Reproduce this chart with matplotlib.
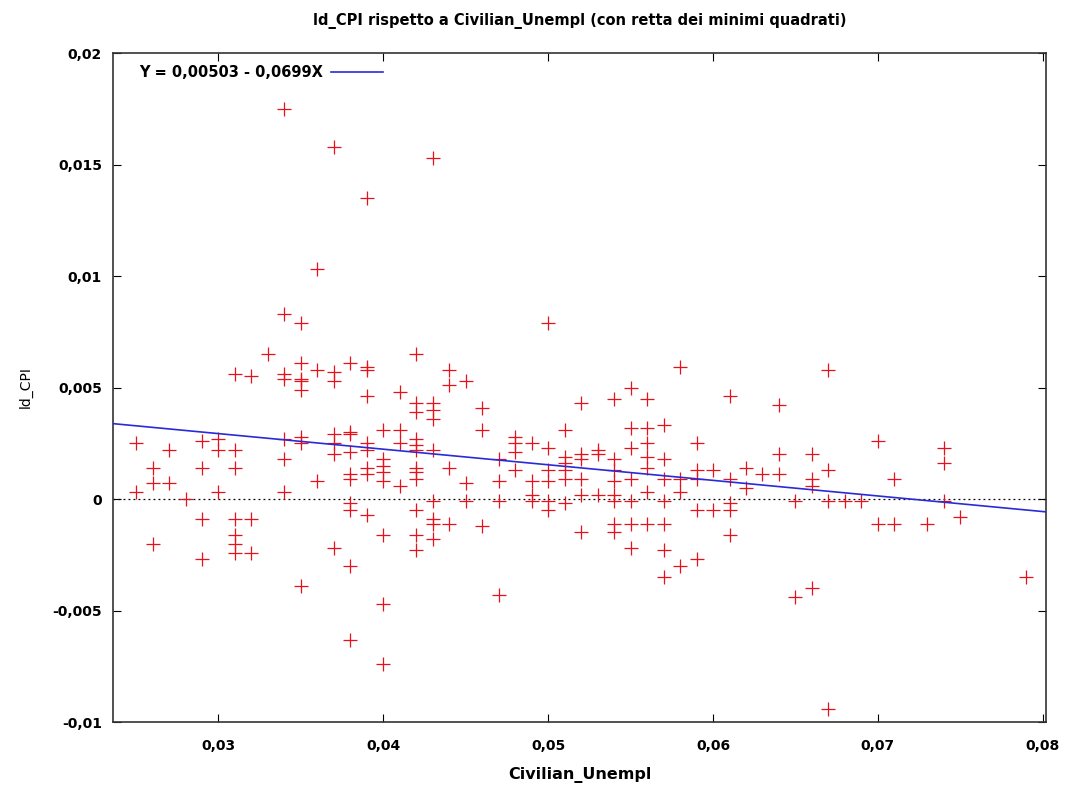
import matplotlib
matplotlib.use("Agg")
import matplotlib.pyplot as plt
from matplotlib.ticker import FuncFormatter
import numpy as np

# Civilian_Unempl (x) and ld_CPI (y)
unempl = {
    0.025: [0.0025, 0.0003],
    0.026: [0.0014, 0.0007, -0.0020],
    0.027: [0.0022, 0.0007],
    0.028: [0.0000],
    0.029: [0.0026, 0.0014, -0.0009, -0.0027],
    0.030: [0.0027, 0.0022, 0.0003],
    0.031: [0.0056, 0.0022, 0.0014, -0.0009, -0.0016, -0.0020, -0.0024],
    0.032: [0.0055, -0.0009, -0.0024],
    0.033: [0.0065],
    0.034: [0.0175, 0.0083, 0.0056, 0.0054, 0.0027, 0.0018, 0.0003],
    0.035: [0.0079, 0.0061, 0.0054, 0.0053, 0.0049, 0.0028, 0.0025, -0.0039],
    0.036: [0.0103, 0.0058, 0.0008],
    0.037: [0.0158, 0.0057, 0.0053, 0.0029, 0.0025, 0.0020, -0.0022],
    0.038: [0.0061, 0.0030, 0.0029, 0.0021, 0.0011, 0.0009, -0.0002, -0.0005, -0.0030, -0.0063],
    0.039: [0.0135, 0.0059, 0.0058, 0.0046, 0.0025, 0.0022, 0.0014, 0.0011, -0.0007],
    0.040: [0.0031, 0.0018, 0.0015, 0.0012, 0.0008, -0.0016, -0.0047, -0.0074],
    0.041: [0.0048, 0.0031, 0.0025, 0.0006],
    0.042: [0.0065, 0.0043, 0.0039, 0.0027, 0.0024, 0.0022, 0.0014, 0.0012, 0.0009, -0.0005, -0.0016, -0.0023],
    0.043: [0.0153, 0.0043, 0.0040, 0.0036, 0.0022, -0.0001, -0.0009, -0.0011, -0.0018],
    0.044: [0.0058, 0.0051, 0.0014, -0.0011],
    0.045: [0.0053, 0.0007, -0.0001],
    0.046: [0.0041, 0.0031, -0.0012],
    0.047: [0.0018, 0.0008, -0.0001, -0.0043],
    0.048: [0.0028, 0.0025, 0.0021, 0.0013],
    0.049: [0.0025, 0.0008, 0.0002, -0.0001],
    0.050: [0.0079, 0.0023, 0.0013, 0.0008, -0.0001, -0.0005],
    0.051: [0.0031, 0.0019, 0.0016, 0.0013, 0.0009, -0.0002],
    0.052: [0.0043, 0.0020, 0.0018, 0.0009, 0.0002, -0.0015],
    0.053: [0.0022, 0.0020, 0.0002],
    0.054: [0.0045, 0.0018, 0.0013, 0.0008, 0.0002, -0.0001, -0.0011, -0.0015],
    0.055: [0.0050, 0.0032, 0.0023, 0.0009, -0.0001, -0.0011, -0.0022],
    0.056: [0.0045, 0.0032, 0.0025, 0.0019, 0.0014, 0.0003, -0.0011],
    0.057: [0.0033, 0.0018, 0.0009, -0.0001, -0.0011, -0.0023, -0.0035],
    0.058: [0.0059, 0.0009, 0.0003, -0.0030],
    0.059: [0.0025, 0.0013, 0.0009, -0.0005, -0.0027],
    0.060: [0.0013, -0.0005],
    0.061: [0.0046, 0.0009, -0.0002, -0.0005, -0.0016],
    0.062: [0.0014, 0.0005],
    0.063: [0.0011],
    0.064: [0.0042, 0.0020, 0.0011],
    0.065: [-0.0001, -0.0044],
    0.066: [0.0020, 0.0009, 0.0006, -0.0040],
    0.067: [0.0058, 0.0013, -0.0001, -0.0094],
    0.068: [-0.0001],
    0.069: [-0.0001],
    0.070: [0.0026, -0.0011],
    0.071: [0.0009, -0.0011],
    0.073: [-0.0011],
    0.074: [0.0023, 0.0016, -0.0001],
    0.075: [-0.0008],
    0.079: [-0.0035],
}
x_vals = [x for x, ys in unempl.items() for _ in ys]
y_vals = [y for ys in unempl.values() for y in ys]

intercept = 0.00503
slope = -0.0699
x_ticks = [0.03, 0.04, 0.05, 0.06, 0.07, 0.08]
y_ticks = [-0.01, -0.005, 0, 0.005, 0.01, 0.015, 0.02]
title = "ld_CPI rispetto a Civilian_Unempl (con retta dei minimi quadrati)"
legend_label = "Y = 0,00503 - 0,0699X"

plt.rcParams['font.family'] = ['DejaVu Sans']
fig = plt.figure(figsize=(10.69, 7.89), dpi=100)
ax = fig.add_axes([0.1057, 0.0849, 0.8728, 0.8479])

xlim = (0.0236, 0.0802)
ax.set_xlim(*xlim)
ax.set_ylim(-0.01, 0.02)

ax.axhline(0, color='black', lw=0.9, ls=(0, (1.5, 2.5)), zorder=1)
ax.plot(x_vals, y_vals, ls='none', marker='+', ms=10, mew=0.9,
        color='#e8101a', zorder=3)
xl = np.array(xlim)
ax.plot(xl, intercept + slope * xl, color='#2a2ad8', lw=1.2, zorder=4,
        label=legend_label)

fmt = FuncFormatter(lambda v, p: ('%g' % round(v, 4)).replace('.', ','))
ax.set_xticks(x_ticks)
ax.set_yticks(y_ticks)
ax.xaxis.set_major_formatter(fmt)
ax.yaxis.set_major_formatter(fmt)
ax.tick_params(direction='in', top=True, right=True, length=6, width=0.8,
               labelsize=10, pad=12)
ax.tick_params(axis='y', pad=8)
for lab in ax.get_xticklabels() + ax.get_yticklabels():
    lab.set_fontweight('bold')
for s in ax.spines.values():
    s.set_linewidth(1.2)
    s.set_color('#333333')

ax.set_title(title, fontsize=10.5, fontweight='bold', pad=20)
ax.set_xlabel("Civilian_Unempl", fontsize=11.5, fontweight='bold', labelpad=10)
ax.set_ylabel("ld_CPI", fontsize=10, labelpad=14)

leg = ax.legend(loc='upper left', bbox_to_anchor=(0.016, 1.0), frameon=False,
                markerfirst=False, handlelength=3.6, borderaxespad=0.4,
                handletextpad=0.5, prop={'size': 10.5, 'weight': 'bold'})

fig.savefig("out.png", dpi=100)
